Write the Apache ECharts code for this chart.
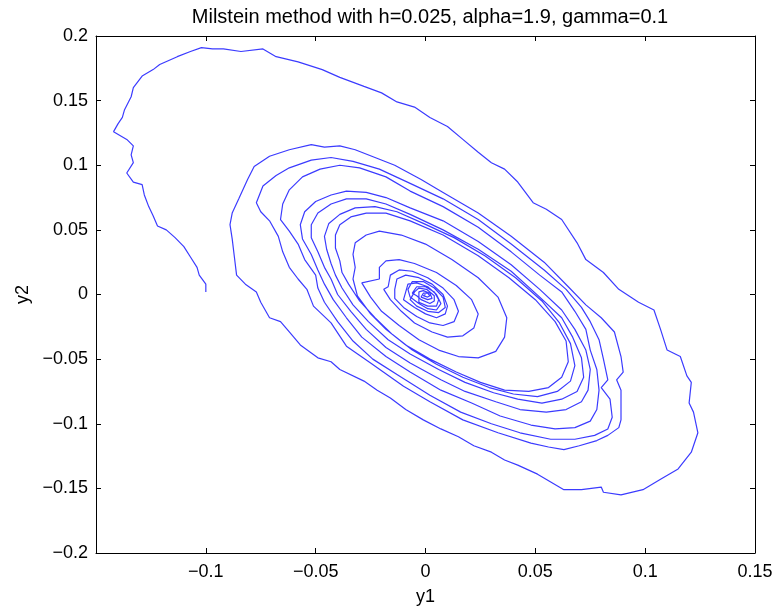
<!DOCTYPE html>
<html>
<head>
<meta charset="utf-8">
<title>Milstein method</title>
<script src="https://cdn.jsdelivr.net/npm/echarts@6/dist/echarts.min.js"></script>
<style>
	html, body { margin: 0; padding: 0; background: #fff; }
	#chart { width: 776px; height: 611px; }
</style>
</head>
<body>
<div id="chart"></div>
<script>
var loop0 = [[-0.100,0.002],[-0.100,0.008],[-0.103,0.015],[-0.104,0.021],[-0.107,0.029],[-0.110,0.037],[-0.114,0.044],[-0.118,0.050],[-0.122,0.053],[-0.124,0.061],[-0.126,0.068],[-0.128,0.077],[-0.129,0.085],[-0.133,0.087],[-0.136,0.094],[-0.133,0.102],[-0.134,0.108],[-0.133,0.115],[-0.136,0.120],[-0.142,0.126],[-0.140,0.132],[-0.138,0.137],[-0.137,0.143],[-0.134,0.153],[-0.133,0.160],[-0.129,0.169],[-0.124,0.174],[-0.121,0.178],[-0.113,0.184],[-0.107,0.188],[-0.102,0.191],[-0.097,0.190],[-0.092,0.190],[-0.084,0.188],[-0.074,0.190],[-0.068,0.184],[-0.058,0.180],[-0.047,0.174],[-0.039,0.168],[-0.028,0.161],[-0.020,0.156],[-0.013,0.149],[-0.005,0.145],[0.002,0.137],[0.010,0.130],[0.017,0.120],[0.024,0.110],[0.030,0.102],[0.036,0.097],[0.042,0.087],[0.049,0.071],[0.055,0.066],[0.062,0.058],[0.069,0.040],[0.073,0.027],[0.081,0.017],[0.088,0.004],[0.097,-0.006],[0.104,-0.012],[0.107,-0.027],[0.110,-0.043],[0.116,-0.048],[0.119,-0.063],[0.121,-0.068],[0.120,-0.084],[0.122,-0.091],[0.124,-0.107],[0.121,-0.122],[0.115,-0.135],[0.107,-0.143],[0.099,-0.151],[0.089,-0.155],[0.081,-0.153],[0.080,-0.149],[0.071,-0.151],[0.063,-0.151],[0.057,-0.145],[0.051,-0.139],[0.042,-0.132],[0.036,-0.128],[0.030,-0.122],[0.022,-0.117],[0.015,-0.110],[0.007,-0.104],[-0.001,-0.097],[-0.009,-0.089],[-0.016,-0.080],[-0.022,-0.074],[-0.028,-0.067],[-0.039,-0.058],[-0.043,-0.052],[-0.049,-0.049],[-0.057,-0.039],[-0.062,-0.029],[-0.066,-0.021],[-0.071,-0.018],[-0.075,-0.006],[-0.077,0.002],[-0.082,0.008],[-0.086,0.015]];
var loop1 = [[-0.087,0.029],[-0.088,0.043],[-0.089,0.054],[-0.088,0.063],[-0.085,0.074],[-0.081,0.089],[-0.078,0.099],[-0.071,0.107],[-0.062,0.112],[-0.052,0.116],[-0.046,0.114],[-0.039,0.115],[-0.032,0.112],[-0.023,0.106],[-0.014,0.100],[-0.002,0.089],[0.008,0.079],[0.024,0.063],[0.039,0.045],[0.054,0.025],[0.065,0.006],[0.073,-0.008],[0.080,-0.018],[0.086,-0.029],[0.089,-0.048],[0.090,-0.060],[0.087,-0.066],[0.089,-0.074],[0.089,-0.087],[0.089,-0.097],[0.088,-0.103],[0.083,-0.109],[0.078,-0.113],[0.070,-0.117],[0.063,-0.120],[0.056,-0.118],[0.048,-0.115],[0.033,-0.107],[0.017,-0.097],[0.002,-0.083],[-0.010,-0.071],[-0.025,-0.053],[-0.036,-0.040],[-0.043,-0.022],[-0.051,-0.009],[-0.054,0.004]];
var loop2 = [[-0.058,0.012],[-0.062,0.021],[-0.065,0.033],[-0.067,0.045],[-0.071,0.057],[-0.075,0.064],[-0.077,0.071],[-0.074,0.084],[-0.068,0.092],[-0.062,0.098],[-0.052,0.104],[-0.043,0.106],[-0.033,0.103],[-0.021,0.097],[-0.007,0.086],[0.008,0.074],[0.024,0.058],[0.039,0.039],[0.054,0.019],[0.064,0.004],[0.071,-0.010],[0.075,-0.021],[0.079,-0.035],[0.081,-0.050],[0.083,-0.066],[0.080,-0.072],[0.084,-0.081],[0.085,-0.095],[0.083,-0.104],[0.077,-0.109],[0.068,-0.112],[0.057,-0.112],[0.043,-0.107],[0.030,-0.100],[0.016,-0.091],[0.002,-0.078],[-0.011,-0.064],[-0.024,-0.050],[-0.033,-0.036],[-0.040,-0.021],[-0.046,-0.006],[-0.049,0.005]];
var loop3 = [[-0.050,0.015],[-0.055,0.027],[-0.058,0.039],[-0.062,0.049],[-0.066,0.058],[-0.065,0.070],[-0.062,0.081],[-0.056,0.091],[-0.048,0.097],[-0.039,0.100],[-0.030,0.098],[-0.018,0.091],[-0.007,0.080],[0.008,0.068],[0.024,0.052],[0.039,0.033],[0.052,0.015],[0.062,0.002],[0.068,-0.013],[0.073,-0.027],[0.075,-0.043],[0.078,-0.058],[0.079,-0.074],[0.078,-0.089],[0.075,-0.098],[0.068,-0.103],[0.059,-0.104],[0.048,-0.101],[0.034,-0.094],[0.021,-0.084],[0.007,-0.074],[-0.007,-0.060],[-0.018,-0.048],[-0.029,-0.033],[-0.036,-0.018],[-0.042,-0.004],[-0.046,0.008]];
var loop4 = [[-0.049,0.019],[-0.052,0.031],[-0.056,0.043],[-0.057,0.054],[-0.055,0.064],[-0.050,0.072],[-0.043,0.077],[-0.036,0.080],[-0.027,0.079],[-0.018,0.075],[-0.007,0.067],[0.008,0.057],[0.024,0.041],[0.039,0.023],[0.052,0.004],[0.062,-0.012],[0.068,-0.027],[0.073,-0.043],[0.075,-0.058],[0.074,-0.074],[0.071,-0.083],[0.064,-0.089],[0.055,-0.091],[0.043,-0.089],[0.032,-0.083],[0.018,-0.075],[0.007,-0.066],[-0.007,-0.053],[-0.018,-0.041],[-0.027,-0.027],[-0.034,-0.013],[-0.040,0.000],[-0.043,0.012]];
var loop5 = [[-0.046,0.021],[-0.049,0.033],[-0.052,0.044],[-0.052,0.054],[-0.049,0.063],[-0.043,0.070],[-0.036,0.074],[-0.027,0.074],[-0.018,0.070],[-0.007,0.062],[0.008,0.050],[0.024,0.035],[0.039,0.018],[0.052,-0.002],[0.062,-0.018],[0.067,-0.033],[0.071,-0.049],[0.072,-0.064],[0.069,-0.075],[0.062,-0.081],[0.053,-0.084],[0.042,-0.081],[0.031,-0.076],[0.018,-0.068],[0.006,-0.058],[-0.007,-0.046],[-0.017,-0.035],[-0.026,-0.021],[-0.033,-0.008],[-0.038,0.005],[-0.041,0.015]];
var loop5b = [[-0.043,0.024],[-0.045,0.035],[-0.046,0.045],[-0.044,0.055],[-0.039,0.062],[-0.032,0.067],[-0.023,0.068],[-0.013,0.064],[-0.001,0.055],[0.013,0.044],[0.027,0.030],[0.041,0.013],[0.053,-0.005],[0.061,-0.022],[0.066,-0.038],[0.068,-0.055],[0.066,-0.067],[0.060,-0.075],[0.051,-0.079],[0.040,-0.077],[0.029,-0.072],[0.017,-0.064],[0.005,-0.054],[-0.006,-0.043],[-0.015,-0.031],[-0.023,-0.018],[-0.030,-0.005],[-0.035,0.008],[-0.038,0.017]];
var loop6 = [[-0.039,0.026],[-0.041,0.036],[-0.041,0.046],[-0.039,0.054],[-0.034,0.060],[-0.027,0.063],[-0.018,0.063],[-0.007,0.057],[0.008,0.046],[0.024,0.030],[0.038,0.013],[0.050,-0.004],[0.059,-0.021],[0.064,-0.036],[0.065,-0.052],[0.062,-0.064],[0.056,-0.072],[0.047,-0.075],[0.036,-0.074],[0.025,-0.068],[0.014,-0.060],[0.002,-0.050],[-0.009,-0.039],[-0.018,-0.027],[-0.025,-0.015],[-0.031,-0.001],[-0.033,0.012]];
var loop7 = [[-0.032,0.021],[-0.033,0.031],[-0.032,0.040],[-0.027,0.046],[-0.021,0.049],[-0.011,0.046],[0.000,0.039],[0.012,0.027],[0.024,0.013],[0.033,-0.002],[0.037,-0.018],[0.036,-0.033],[0.032,-0.044],[0.024,-0.049],[0.015,-0.048],[0.006,-0.043],[-0.003,-0.035],[-0.012,-0.024],[-0.020,-0.013],[-0.025,-0.002],[-0.029,0.009]];
var loop8 = [[-0.021,0.012],[-0.021,0.021],[-0.018,0.026],[-0.012,0.027],[-0.005,0.024],[0.005,0.017],[0.014,0.007],[0.021,-0.004],[0.024,-0.015],[0.022,-0.026],[0.017,-0.032],[0.010,-0.033],[0.003,-0.029],[-0.005,-0.022],[-0.011,-0.013],[-0.016,-0.004],[-0.019,0.004]];
var loop8b = [[-0.017,0.006],[-0.016,0.015],[-0.012,0.019],[-0.006,0.018],[0.001,0.013],[0.008,0.005],[0.013,-0.004],[0.015,-0.013],[0.013,-0.021],[0.008,-0.024],[0.002,-0.022],[-0.004,-0.017],[-0.010,-0.010],[-0.014,-0.003]];
var loop9 = [[-0.014,0.004],[-0.013,0.012],[-0.009,0.015],[-0.003,0.013],[0.003,0.008],[0.008,0.000],[0.010,-0.009],[0.009,-0.015],[0.005,-0.018],[0.000,-0.015],[-0.005,-0.010],[-0.010,-0.004]];
var loop10 = [[-0.009,0.002],[-0.008,0.008],[-0.004,0.009],[0.001,0.006],[0.005,0.000],[0.007,-0.007],[0.005,-0.012],[0.001,-0.011],[-0.003,-0.007],[-0.007,-0.002]];
var loop10b = [[-0.008,0.004],[-0.006,0.010],[-0.001,0.010],[0.004,0.005],[0.008,-0.002],[0.009,-0.010],[0.006,-0.014],[0.001,-0.013],[-0.004,-0.009],[-0.007,-0.004]];
var loop11 = [[-0.005,0.002],[-0.003,0.005],[0.0005,0.004],[0.004,-0.001],[0.004,-0.005],[0.002,-0.007],[-0.002,-0.004],[-0.004,-0.001]];
var loop11b = [[-0.006,0.001],[-0.004,0.006],[0.000,0.006],[0.004,0.002],[0.006,-0.004],[0.005,-0.009],[0.001,-0.009],[-0.003,-0.006]];
var loop12 = [[-0.003,0.002],[-0.001,0.003],[0.002,0.001],[0.003,-0.003],[0.001,-0.004],[-0.002,-0.002]];
var loop13 = [[-0.001,0.001],[0.001,0.001],[0.002,-0.001],[0.001,-0.002],[-0.001,-0.001],[0.000,0.000]];

var xTicks = [-0.15, 0.15, 0.05];   // min, max, step
var yTicks = [-0.2, 0.2, 0.05];

var path = [].concat(loop0, loop1, loop2, loop3, loop4, loop5, loop5b, loop6, loop7,
	loop8, loop8b, loop9, loop10, loop10b, loop11, loop11b, loop12, loop13);

function tickText(v, skipMin) {
	var r = Math.round(v * 1000) / 1000;
	if (skipMin && r === xTicks[0]) return '';
	return r < 0 ? '\u2212' + (-r) : String(r);
}

var font = 'Liberation Sans';
var chart = echarts.init(document.getElementById('chart'), null, { renderer: 'canvas' });

function axisBase(min, max, step) {
	return {
		type: 'value', min: min, max: max, interval: step,
		axisLine: { show: true, onZero: false, lineStyle: { color: '#000', width: 1 } },
		axisTick: { show: true, inside: true, length: 5, lineStyle: { color: '#000' } },
		splitLine: { show: false }
	};
}

var xMain = axisBase(xTicks[0], xTicks[1], xTicks[2]);
xMain.position = 'bottom';
xMain.name = 'y1';
xMain.nameLocation = 'middle';
xMain.nameGap = 35;
xMain.nameTextStyle = { color: '#000', fontFamily: font, fontSize: 18 };
xMain.axisLabel = { color: '#000', fontFamily: font, fontSize: 18, margin: 10,
	formatter: function (v) { return tickText(v, true); } };

var xTop = axisBase(xTicks[0], xTicks[1], xTicks[2]);
xTop.position = 'top';
xTop.axisLabel = { show: false };

var yMain = axisBase(yTicks[0], yTicks[1], yTicks[2]);
yMain.position = 'left';
yMain.name = 'y2';
yMain.nameLocation = 'middle';
yMain.nameRotate = 90;
yMain.nameGap = 47;
yMain.nameTextStyle = { color: '#000', fontFamily: font, fontSize: 18 };
yMain.axisLabel = { color: '#000', fontFamily: font, fontSize: 18, margin: 8,
	formatter: function (v) { return tickText(v, false); } };

var yRight = axisBase(yTicks[0], yTicks[1], yTicks[2]);
yRight.position = 'right';
yRight.axisLabel = { show: false };

var option = {
	animation: false,
	backgroundColor: '#fff',
	title: {
		text: 'Milstein method with h=0.025, alpha=1.9, gamma=0.1',
		left: 425, top: 2, textAlign: 'center',
		textStyle: { color: '#000', fontFamily: font, fontSize: 20, fontWeight: 'normal' }
	},
	grid: { left: 96, right: 21, top: 36, bottom: 58 },
	xAxis: [xMain, xTop],
	yAxis: [yMain, yRight],
	series: [{
		type: 'line',
		xAxisIndex: 0,
		yAxisIndex: 0,
		data: path,
		showSymbol: false,
		smooth: false,
		lineStyle: { color: '#3b3bff', width: 1.2 }
	}]
};

chart.setOption(option);
</script>
</body>
</html>
